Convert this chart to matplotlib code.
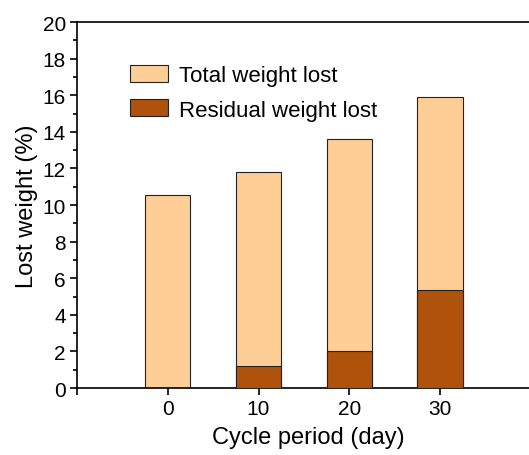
import matplotlib.pyplot as plt
from matplotlib.ticker import MultipleLocator

plt.rcParams['font.family'] = ['Liberation Sans', 'DejaVu Sans']

# Weight loss over cycle period
days = [0, 10, 20, 30]
total_lost = [10.55, 11.8, 13.6, 15.9]
residual_lost = [0.0, 1.2, 2.05, 5.35]

fig = plt.figure(figsize=(5.29, 4.56), dpi=100)
ax = fig.add_axes([0.1456, 0.1469, 0.875, 0.8026])

ax.bar(days, total_lost, width=5, color='#FFCE97', edgecolor='#222222',
       linewidth=0.8, label='Total weight lost', zorder=2)
ax.bar(days, residual_lost, width=5, color='#AE520C', edgecolor='#222222',
       linewidth=0.8, label='Residual weight lost', zorder=3)

ax.set_xlim(-10, 41)
ax.set_ylim(0, 20)
ax.set_xticks([-10, 0, 10, 20, 30])
ax.set_xticklabels(['', '0', '10', '20', '30'])
ax.yaxis.set_major_locator(MultipleLocator(2))
ax.yaxis.set_minor_locator(MultipleLocator(1))

for s in ['left', 'bottom', 'top']:
    ax.spines[s].set_linewidth(1.2)
ax.spines['right'].set_visible(False)

ax.tick_params(axis='both', which='major', direction='out', length=5,
               width=1.2, labelsize=15, pad=3)
ax.tick_params(axis='y', which='minor', direction='out', length=3, width=1.2)

ax.set_xlabel('Cycle period (day)', fontsize=17, labelpad=6)
ax.set_ylabel('Lost weight (%)', fontsize=17, labelpad=3)

ax.legend(loc='upper left', bbox_to_anchor=(0.115, 0.882), frameon=False,
          fontsize=16, handlelength=1.7, handleheight=0.8, handletextpad=0.5,
          labelspacing=0.58, borderpad=0, borderaxespad=0)

fig.savefig('out.png', dpi=100)
